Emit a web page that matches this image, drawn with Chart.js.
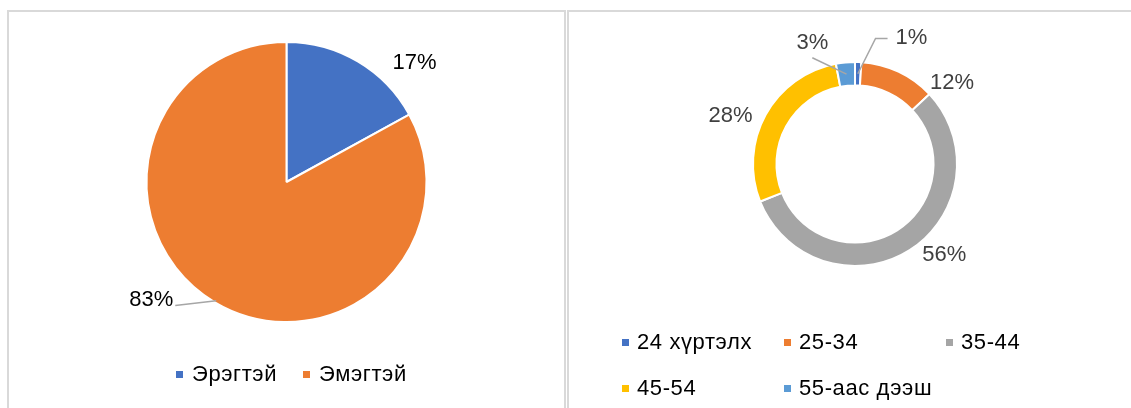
<!DOCTYPE html>
<html>
<head>
<meta charset="utf-8">
<script src="https://cdn.jsdelivr.net/npm/chart.js@4.4.0/dist/chart.umd.min.js"></script>
<style>
  body { margin: 0; background: #fff; width: 1131px; height: 408px; overflow: hidden; position: relative;
         font-family: "Liberation Sans", Arial, sans-serif; }
  .panel { position: absolute; top: 10px; height: 420px; border-top: 2px solid #d9d9d9; box-sizing: border-box; }
  #p1 { left: 7px; width: 559px; border-left: 2px solid #d9d9d9; border-right: 2px solid #d9d9d9; }
  #p2 { left: 567px; width: 564px; border-left: 2px solid #d9d9d9; }
  canvas { position: absolute; }
  #c1 { left: 9px; top: 12px; }
  #c2 { left: 569px; top: 12px; }
  .legend { position: absolute; font-size: 22px; letter-spacing: 0.6px; color: #000; }
  .legend .item { display: flex; align-items: center; height: 46px; white-space: nowrap; }
  .legend .box { width: 7px; height: 7px; display: inline-block; }
  #l1 { left: 176px; top: 351px; display: flex; }
  #l1 .item { margin-right: 26px; }
  #l1 .box { margin-right: 9px; }
  #l2 { left: 622px; top: 319px; display: grid; grid-template-columns: 162px 162px 162px; }
  #l2 .box { margin-right: 8px; }
</style>
</head>
<body>
<div class="panel" id="p1"></div>
<div class="panel" id="p2"></div>
<canvas id="c1" width="555" height="396"></canvas>
<canvas id="c2" width="562" height="396"></canvas>
<div class="legend" id="l1"></div>
<div class="legend" id="l2"></div>
<script>
var genderLabels = ['Эрэгтэй', 'Эмэгтэй'];
var genderValues = [17, 83];
var genderColors = ['#4472C4', '#ED7D31'];

var ageLabels = ['24 хүртэлх', '25-34', '35-44', '45-54', '55-аас дээш'];
var ageValues = [1, 12, 56, 28, 3];
var ageColors = ['#4472C4', '#ED7D31', '#A5A5A5', '#FFC000', '#5B9BD5'];

// percent labels outside the slices, with optional leader lines
var outsideLabels = {
    id: 'outsideLabels',
    afterDatasetsDraw: function (chart, args, opts) {
        var ctx = chart.ctx;
        var meta = chart.getDatasetMeta(0);
        var values = chart.data.datasets[0].data;
        ctx.save();
        ctx.font = opts.font;
        ctx.textAlign = 'center';
        ctx.textBaseline = 'middle';
        meta.data.forEach(function (arc, i) {
            var p = arc.getProps(['x', 'y', 'startAngle', 'endAngle', 'outerRadius', 'innerRadius'], true);
            var pos = opts.positions[i];
            var a = pos[0] * Math.PI / 180 - Math.PI / 2;
            var lx = p.x + Math.cos(a) * p.outerRadius * pos[1];
            var ly = p.y + Math.sin(a) * p.outerRadius * pos[1];
            var text = values[i] + '%';
            var lead = opts.leaders[i];
            if (lead) {
                var mid = (p.startAngle + p.endAngle) / 2;
                var r = p.innerRadius > 0 ? (p.innerRadius + p.outerRadius) / 2 : p.outerRadius - 2;
                var ax = p.x + Math.cos(mid) * r, ay = p.y + Math.sin(mid) * r;
                var w = ctx.measureText(text).width;
                ctx.beginPath();
                ctx.strokeStyle = '#a6a6a6';
                ctx.lineWidth = 1.5;
                ctx.moveTo(ax, ay);
                if (lead.side === 'bottom') {
                    ctx.lineTo(lx, ly + 15);
                } else {
                    var sx = lead.side === 'left' ? lx - w / 2 - 8 : lx + w / 2 + 2;
                    var ex = lead.side === 'left' ? sx - lead.elbow : sx + lead.elbow;
                    ctx.lineTo(ex, ly + lead.dy);
                    ctx.lineTo(sx, ly + lead.dy);
                }
                ctx.stroke();
            }
            ctx.fillStyle = opts.color;
            ctx.fillText(text, lx, ly);
        });
        ctx.restore();
    }
};

function htmlLegend(chart, el) {
    var ds = chart.data.datasets[0];
    chart.data.labels.forEach(function (lab, i) {
        var item = document.createElement('div');
        item.className = 'item';
        var box = document.createElement('span');
        box.className = 'box';
        box.style.background = ds.backgroundColor[i];
        item.appendChild(box);
        item.appendChild(document.createTextNode(lab));
        el.appendChild(item);
    });
}

var genderChart = new Chart(document.getElementById('c1'), {
    type: 'pie',
    data: {
        labels: genderLabels,
        datasets: [{
            data: genderValues,
            backgroundColor: genderColors,
            borderColor: '#ffffff',
            borderWidth: 2
        }]
    },
    options: {
        responsive: false,
        animation: false,
        events: [],
        layout: { padding: { top: 29, bottom: 85 } },
        plugins: {
            legend: { display: false },
            tooltip: { enabled: false },
            outsideLabels: {
                font: '22px "Liberation Sans", Arial, sans-serif',
                color: '#000000',
                positions: [[47, 1.25], [229, 1.28]],
                leaders: [null, { side: 'right', dy: 6, elbow: 0 }]
            }
        }
    },
    plugins: [outsideLabels]
});
htmlLegend(genderChart, document.getElementById('l1'));

var ageChart = new Chart(document.getElementById('c2'), {
    type: 'doughnut',
    data: {
        labels: ageLabels,
        datasets: [{
            data: ageValues,
            backgroundColor: ageColors,
            borderColor: '#ffffff',
            borderWidth: 2
        }]
    },
    options: {
        responsive: false,
        animation: false,
        events: [],
        cutout: '77%',
        layout: { padding: { top: 49, bottom: 141, left: 10, right: 0 } },
        plugins: {
            legend: { display: false },
            tooltip: { enabled: false },
            outsideLabels: {
                font: '22px "Liberation Sans", Arial, sans-serif',
                color: '#404040',
                positions: [[24.2, 1.35], [50.1, 1.24], [135.6, 1.25], [291.3, 1.31], [340.6, 1.26]],
                leaders: [{ side: 'left', dy: 0, elbow: 12 }, null, null, null, { side: 'bottom' }]
            }
        }
    },
    plugins: [outsideLabels]
});
htmlLegend(ageChart, document.getElementById('l2'));
</script>
</body>
</html>
